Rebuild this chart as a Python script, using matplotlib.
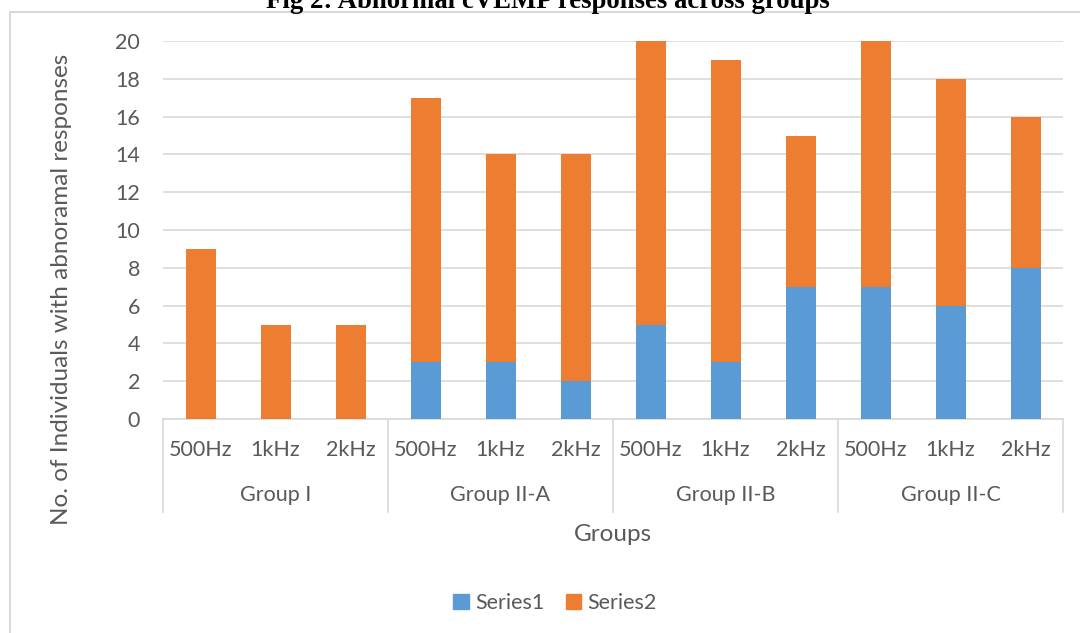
import matplotlib.pyplot as plt
import matplotlib.patches as mpatches
import numpy as np

# ==============================
# DATA
# ==============================
groups = ['Group I', 'Group II-A', 'Group II-B', 'Group II-C']
freqs = ['500Hz', '1kHz', '2kHz']
series1 = [0, 0, 0, 3, 3, 2, 5, 3, 7, 7, 6, 8]
series2 = [9, 5, 5, 14, 11, 12, 15, 16, 8, 13, 12, 8]
yticks = [0, 2, 4, 6, 8, 10, 12, 14, 16, 18, 20]

BLUE = '#5B9BD5'
ORANGE = '#ED7D31'
TEXT = '#595959'
GRID = '#D9D9D9'
TICK_FS = 15.5

plt.rcParams['font.family'] = ['Lato', 'DejaVu Sans']

fig = plt.figure(figsize=(10.8, 6.33), dpi=100)
ax = fig.add_axes([163 / 1080, 1 - 419 / 633, 900 / 1080, 378 / 633])

x = np.arange(len(series1))
width = 0.4
ax.bar(x, series1, width, color=BLUE, label='Series1', zorder=3)
ax.bar(x, series2, width, bottom=series1, color=ORANGE, label='Series2', zorder=3)

ax.set_xlim(-0.5, len(series1) - 0.5)
ax.set_ylim(0, 20)
ax.set_yticks(yticks)
ax.set_yticklabels([str(t) for t in yticks], fontsize=TICK_FS, color=TEXT)
ax.tick_params(axis='y', length=0, pad=16.5)
ax.set_xticks([])
ax.grid(True, axis='y', color=GRID, linewidth=1.2, zorder=0)
for s in ['top', 'right', 'left']:
    ax.spines[s].set_visible(False)
ax.spines['bottom'].set_color(GRID)
ax.spines['bottom'].set_linewidth(1.2)

# --- two-level category axis ---
trans = ax.get_xaxis_transform()
for i, xi in enumerate(x):
    ax.text(xi, -0.083, freqs[i % 3], transform=trans, ha='center', va='center',
            fontsize=TICK_FS, color=TEXT)
for g, name in enumerate(groups):
    ax.text(g * 3 + 1, -0.2, name, transform=trans, ha='center', va='center',
            fontsize=TICK_FS, color=TEXT)
for b in range(len(groups) + 1):
    ax.plot([b * 3 - 0.5] * 2, [0, -0.246], transform=trans, color=GRID,
            linewidth=1.2, clip_on=False)

ax.text(0.5, -0.305, 'Groups', transform=ax.transAxes, ha='center', va='center',
        fontsize=17.5, color=TEXT)
fig.text(62 / 1080, 1 - 289 / 633, 'No. of Individuals with abnoramal responses',
         rotation=90, ha='center', va='center', fontsize=17.5, color=TEXT)

# --- legend ---
handles = [mpatches.Patch(color=BLUE, label='Series1'),
           mpatches.Patch(color=ORANGE, label='Series2')]
fig.legend(handles=handles, loc='center', bbox_to_anchor=(555 / 1080, 1 - 603 / 633),
           ncol=2, frameon=False, fontsize=TICK_FS, labelcolor=TEXT,
           handlelength=0.7, handleheight=0.7, handletextpad=0.3, columnspacing=1.0)

# --- chart border and title ---
fig.patches.append(mpatches.Rectangle((9.5 / 1080, -0.1), 1.2, 1.1 - 12 / 633,
                                      transform=fig.transFigure, fill=False,
                                      edgecolor=GRID, linewidth=1.5))
fig.text(548 / 1080, 1 - 8 / 633, 'Fig 2: Abnormal cVEMP responses across groups',
         ha='center', va='baseline', fontsize=19.3, fontweight='bold',
         family='Liberation Serif', color='black')

plt.savefig('out.png', dpi=100)
